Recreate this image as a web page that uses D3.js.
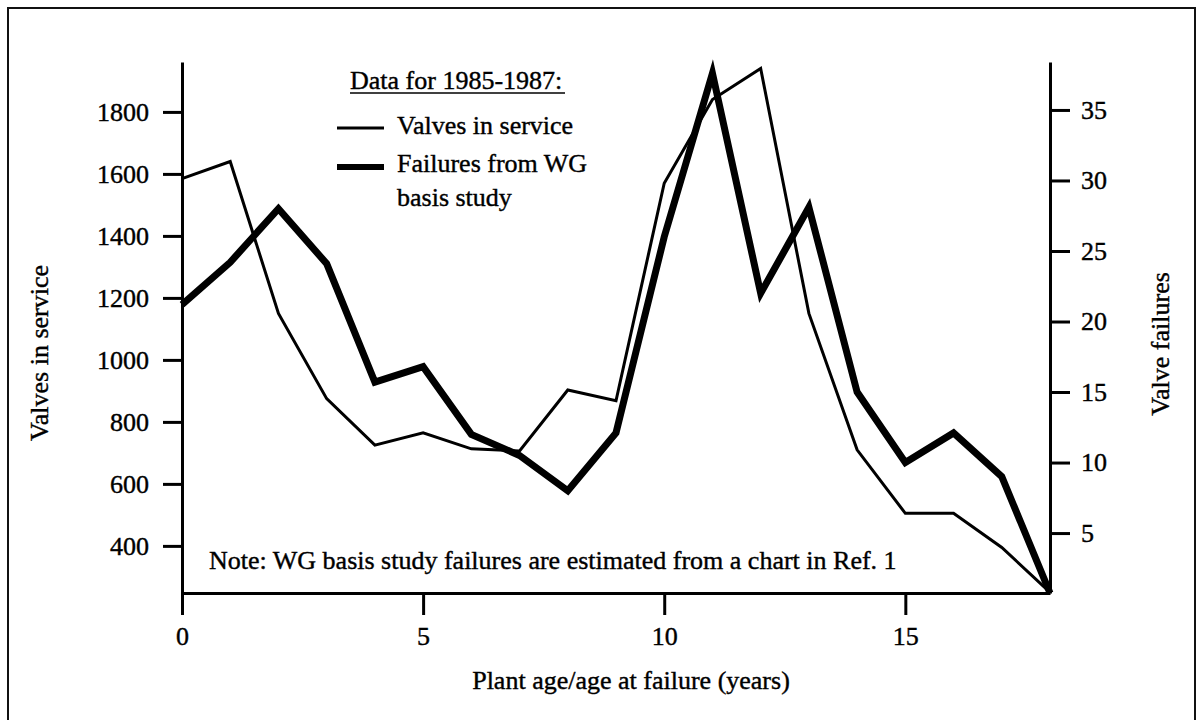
<!DOCTYPE html>
<html>
<head>
<meta charset="utf-8">
<script src="https://cdn.jsdelivr.net/npm/d3@7"></script>
<style>
  body { margin: 0; background: #fff; }
  text { font-family: "Liberation Serif", "Times New Roman", serif; fill: #000; stroke: #000; stroke-width: 0.4px; }
</style>
</head>
<body>
<div id="chart"></div>
<script>
// data
var ages = [0, 1, 2, 3, 4, 5, 6, 7, 8, 9, 10, 11, 12, 13, 14, 15, 16, 17, 18];
var valvesInService = [1585, 1640, 1150, 875, 725, 765, 713, 706, 903, 868, 1570, 1840, 1940, 1150, 710, 505, 505, 395, 250];
var valveFailures = [21.2, 24.2, 28, 24.1, 15.7, 16.8, 12, 10.5, 8, 12.1, 26, 37.6, 22, 28.1, 15, 10, 12.1, 9, 0.75];

var leftTicks = [400, 600, 800, 1000, 1200, 1400, 1600, 1800];
var rightTicks = [5, 10, 15, 20, 25, 30, 35];
var xTicks = [0, 5, 10, 15];

var svgWidth = 1196;
var svgHeight = 720;
var fontSize = 26;

// plot area
var plot = { left: 182, right: 1050, top: 62, bottom: 593 };

var svg = d3.select('#chart')
    .append('svg')
    .attr('width', svgWidth)
    .attr('height', svgHeight);

// outer frame
svg.append('rect')
    .attr('x', 8).attr('y', 8)
    .attr('width', 1187).attr('height', 740)
    .attr('fill', 'none')
    .attr('stroke', '#111')
    .attr('stroke-width', 2);

var xScale = d3.scaleLinear().domain([0, 18]).range([plot.left, plot.right]);
var yLeft = d3.scaleLinear().domain([248, 1961]).range([plot.bottom, plot.top]);
var yRight = d3.scaleLinear().domain([0.75, 38.4]).range([plot.bottom, plot.top]);

var leftAxis = d3.axisLeft(yLeft).tickValues(leftTicks).tickFormat(d3.format('d'))
    .tickSize(19).tickSizeOuter(0).tickPadding(14);
var rightAxis = d3.axisRight(yRight).tickValues(rightTicks).tickFormat(d3.format('d'))
    .tickSize(20).tickSizeOuter(0).tickPadding(11);
var bottomAxis = d3.axisBottom(xScale).tickValues(xTicks).tickFormat(d3.format('d'))
    .tickSize(22).tickSizeOuter(0).tickPadding(12);

function styleAxis(g) {
    g.attr('font-family', null).attr('font-size', null);
    g.select('.domain').attr('stroke', '#000').attr('stroke-width', 3);
    g.selectAll('.tick line').attr('stroke', '#000').attr('stroke-width', 3);
    g.selectAll('.tick text')
        .attr('font-size', fontSize)
        .attr('fill', '#000');
}

svg.append('g').attr('transform', `translate(${plot.left},0)`).call(leftAxis).call(styleAxis);
svg.append('g').attr('transform', `translate(${plot.right},0)`).call(rightAxis).call(styleAxis);
svg.append('g').attr('transform', `translate(0,${plot.bottom})`).call(bottomAxis).call(styleAxis);

// lines
var valvesLine = d3.line()
    .x((d, i) => xScale(ages[i]))
    .y(d => yLeft(d));

var failuresLine = d3.line()
    .x((d, i) => xScale(ages[i]))
    .y(d => yRight(d));

svg.append('path')
    .datum(valvesInService)
    .attr('d', valvesLine)
    .attr('fill', 'none')
    .attr('stroke', '#000')
    .attr('stroke-width', 3)
    .attr('stroke-linejoin', 'miter');

svg.append('path')
    .datum(valveFailures)
    .attr('d', failuresLine)
    .attr('fill', 'none')
    .attr('stroke', '#000')
    .attr('stroke-width', 7)
    .attr('stroke-linejoin', 'miter')
    .attr('stroke-miterlimit', 6);

// axis titles
svg.append('text')
    .attr('transform', 'translate(48,353) rotate(-90)')
    .attr('text-anchor', 'middle')
    .attr('font-size', fontSize)
    .text('Valves in service');

svg.append('text')
    .attr('transform', 'translate(1169,344) rotate(-90)')
    .attr('text-anchor', 'middle')
    .attr('font-size', fontSize)
    .text('Valve failures');

svg.append('text')
    .attr('x', 631).attr('y', 689)
    .attr('text-anchor', 'middle')
    .attr('font-size', fontSize)
    .text('Plant age/age at failure (years)');

// legend
var legend = svg.append('g');
legend.append('text')
    .attr('x', 350).attr('y', 89)
    .attr('font-size', fontSize)
    .text('Data for 1985-1987:');
legend.append('line')
    .attr('x1', 350).attr('x2', 565)
    .attr('y1', 93).attr('y2', 93)
    .attr('stroke', '#000').attr('stroke-width', 1.5);

legend.append('line')
    .attr('x1', 337).attr('x2', 384)
    .attr('y1', 128).attr('y2', 128)
    .attr('stroke', '#000').attr('stroke-width', 3);
legend.append('text')
    .attr('x', 397).attr('y', 134)
    .attr('font-size', fontSize)
    .text('Valves in service');

legend.append('line')
    .attr('x1', 337).attr('x2', 384)
    .attr('y1', 167).attr('y2', 167)
    .attr('stroke', '#000').attr('stroke-width', 6);
legend.append('text')
    .attr('x', 397).attr('y', 172)
    .attr('font-size', fontSize)
    .text('Failures from WG');
legend.append('text')
    .attr('x', 397).attr('y', 206)
    .attr('font-size', fontSize)
    .text('basis study');

// note
svg.append('text')
    .attr('x', 209).attr('y', 569)
    .attr('font-size', fontSize)
    .text('Note: WG basis study failures are estimated from a chart in Ref. 1');
</script>
</body>
</html>
